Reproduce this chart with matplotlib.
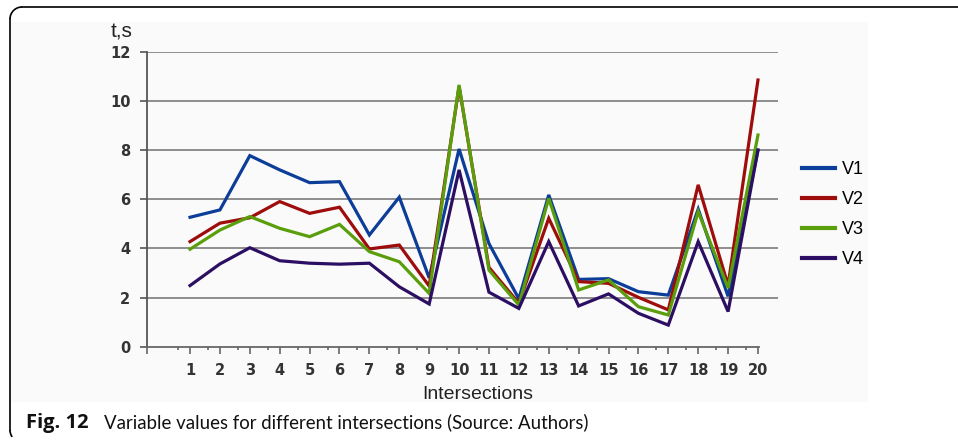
# coding:utf-8
# Fig. 12 - variable values for different intersections

import numpy as np
import matplotlib
matplotlib.use("Agg")
import matplotlib.pyplot as plt
from matplotlib.lines import Line2D
from matplotlib.patches import Rectangle, Arc

# data
intersections = list(range(1, 21))
v1 = [5.27, 5.57, 7.78, 7.2, 6.68, 6.72, 4.55, 6.09, 2.8, 8.05,
      4.2, 1.95, 6.18, 2.74, 2.77, 2.24, 2.1, 5.6, 2.05, 8.0]
v2 = [4.28, 5.03, 5.25, 5.91, 5.43, 5.68, 3.98, 4.14, 2.47, 10.6,
      3.23, 1.77, 5.23, 2.65, 2.58, 2.01, 1.5, 6.59, 2.5, 10.86]
v3 = [3.97, 4.75, 5.3, 4.82, 4.48, 4.98, 3.87, 3.46, 2.17, 10.66,
      3.12, 1.7, 6.04, 2.31, 2.72, 1.63, 1.29, 5.5, 2.39, 8.62]
v4 = [2.49, 3.37, 4.03, 3.5, 3.4, 3.36, 3.4, 2.44, 1.74, 7.2,
      2.22, 1.56, 4.28, 1.66, 2.15, 1.36, 0.88, 4.28, 1.43, 8.01]
series = [("V1", v1, "#0b3d99"), ("V2", v2, "#9e0c0c"),
          ("V3", v3, "#5a9e0c"), ("V4", v4, "#2c0f63")]

W, H = 958, 442
fig = plt.figure(figsize=(W / 100, H / 100), dpi=100)
fig.patch.set_facecolor("white")

def fx(px):
    return px / W

def fy(py):
    return 1 - py / H

# light panel behind the chart (pasted screenshot look)
fig.add_artist(Rectangle((fx(10), fy(402)), fx(858), (380) / H,
                         transform=fig.transFigure, facecolor="#fafafa",
                         edgecolor="none", zorder=0))

ax = fig.add_axes([fx(147), fy(346.7), fx(778 - 147), (346.7 - 52) / H])
ax.set_facecolor("none")

for name, vals, col in series:
    ax.plot(intersections, vals, color=col, lw=2.3, label=name,
            solid_joinstyle="miter", zorder=3)

ax.set_ylim(0, 12)
ax.set_xlim(-0.44, 20.67)
ax.set_yticks(range(0, 13, 2))
for y in range(2, 13, 2):
    ax.axhline(y, color="#858585", lw=1.3, zorder=1)

for s in ["top", "right"]:
    ax.spines[s].set_visible(False)
ax.spines["left"].set_color("#555555")
ax.spines["left"].set_linewidth(1.3)
ax.spines["bottom"].set_color("#666666")
ax.spines["bottom"].set_linewidth(1.3)
ax.spines["bottom"].set_bounds(-0.44, 20.05)

ax.set_xticks([-0.44] + intersections)
ax.set_xticklabels([""] + [str(i) for i in intersections])
ax.set_xticks(np.arange(0, 20) + 0.6, minor=True)
ax.tick_params(axis="x", which="major", length=5, width=1.2, color="#666666",
               pad=7, labelsize=10.5, labelcolor="#333333")
ax.tick_params(axis="x", which="minor", length=2, width=1.2, color="#666666")
ax.tick_params(axis="y", length=5, width=1.2, color="#555555", pad=7,
               labelsize=10.5, labelcolor="#333333")
for lab in ax.get_xticklabels() + ax.get_yticklabels():
    lab.set_fontweight("bold")

fig.text(fx(111), fy(37), "t,s", fontsize=15, family="Liberation Sans",
         color="#222222")
fig.text(fx(478), fy(399), "Intersections", fontsize=14,
         family="Liberation Sans", color="#222222", ha="center")

leg = fig.legend(loc="upper left", bbox_to_anchor=(fx(802), fy(161)),
                 frameon=False, handlelength=1.8, borderpad=0,
                 borderaxespad=0, handletextpad=0.4, labelspacing=0.72,
                 prop={"family": "Liberation Sans", "size": 13})
for h in leg.get_lines():
    h.set_linewidth(3)
# legend labels are cut by the edge of the pasted screenshot
fig.add_artist(Rectangle((fx(868), fy(300)), fx(90), 160 / H,
                         transform=fig.transFigure, facecolor="white",
                         edgecolor="none", zorder=10))

# article frame: top rule and left rule with rounded corner
fig.add_artist(Line2D([fx(22), fx(958)], [fy(7), fy(7)], color="black",
                      lw=1.2, transform=fig.transFigure))
fig.add_artist(Line2D([fx(10), fx(10)], [fy(19), fy(430)], color="black",
                      lw=1.2, transform=fig.transFigure))
fig.add_artist(Arc((22, H - 19), 24, 24, theta1=90, theta2=180,
                   transform=None, color="black", lw=1.2))
fig.add_artist(Arc((22, H - 430), 24, 24, theta1=180, theta2=215,
                   transform=None, color="black", lw=1.2))

fig.text(fx(26), fy(428), "Fig. 12", fontsize=14.5, family="Open Sans",
         fontweight="bold", color="#111111")
fig.text(fx(104), fy(428), "Variable values for different intersections (Source: Authors)",
         fontsize=13.4, family="Lato", color="#111111")

fig.savefig("out.png", dpi=100)
